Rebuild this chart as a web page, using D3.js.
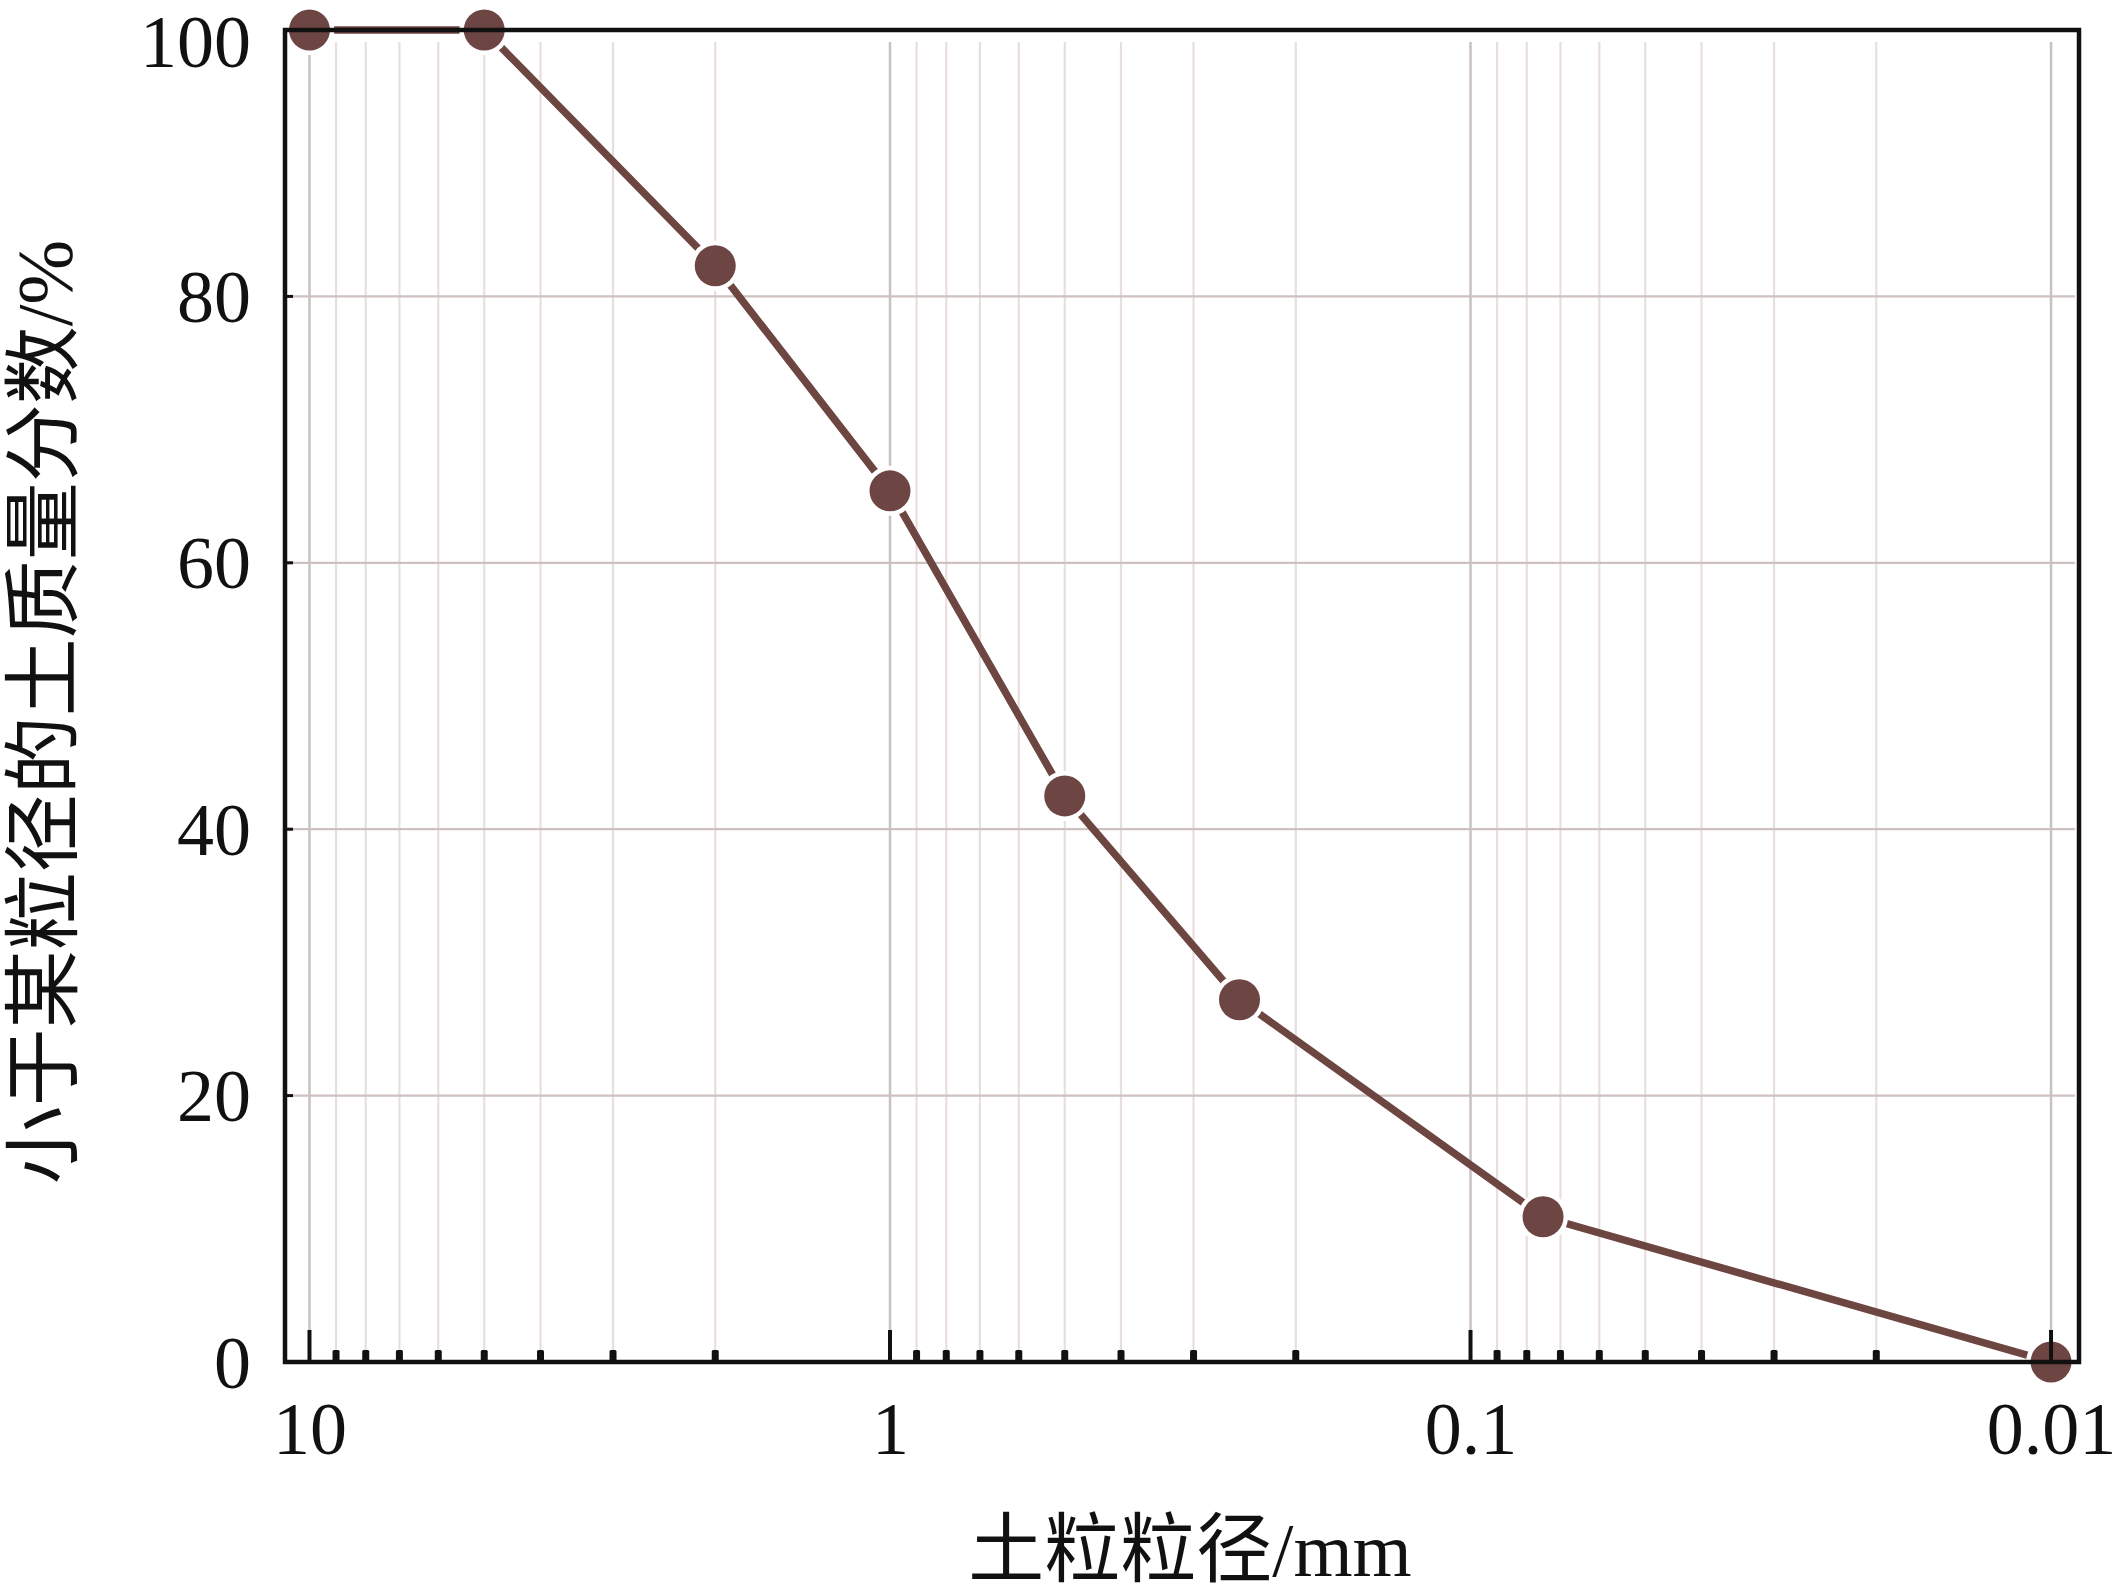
<!DOCTYPE html>
<html>
<head>
<meta charset="utf-8">
<script src="https://cdn.jsdelivr.net/npm/d3@7/dist/d3.min.js"></script>
<style>
  html, body { margin: 0; padding: 0; background: #fff; }
  svg { display: block; }
  text { font-family: "Liberation Serif", "Noto Sans CJK SC", serif; fill: #111; }
</style>
</head>
<body>
<script>
// ---- data ----
const grainSize = [10, 5, 2, 1, 0.5, 0.25, 0.075, 0.01];          // mm
const passingPct = [100, 100, 82.3, 65.4, 42.5, 27.2, 10.9, 0];   // %
const xTickValues = [10, 1, 0.1, 0.01];
const xTickLabels = ["10", "1", "0.1", "0.01"];
const yTickValues = [0, 20, 40, 60, 80, 100];
const xTitle = "土粒粒径/mm";
const yTitle = "小于某粒径的土质量分数/%";

const W = 2115, H = 1594;
const pL = 285, pR = 2079, pT = 30, pB = 1362;

const svg = d3.select("body").append("svg").attr("width", W).attr("height", H);

const x = d3.scaleLog().domain([11.02, 0.00895]).range([pL, pR]);
const y = d3.scaleLinear().domain([0, 100]).range([pB, pT]);

const minorVals = x.ticks().filter(v => v >= 0.01 && v <= 10 && !xTickValues.some(m => Math.abs(Math.log10(v) - Math.log10(m)) < 1e-6));

// minor vertical grid
svg.append("g").selectAll("line").data(minorVals).join("line")
  .attr("x1", d => x(d)).attr("x2", d => x(d))
  .attr("y1", pT + 12).attr("y2", pB - 10)
  .attr("stroke", "#e8dfdd").attr("stroke-width", 2.2);
// major vertical grid
svg.append("g").selectAll("line").data(xTickValues).join("line")
  .attr("x1", d => x(d)).attr("x2", d => x(d))
  .attr("y1", pT + 12).attr("y2", pB)
  .attr("stroke", "#c9c1c0").attr("stroke-width", 2.5);
// horizontal grid
svg.append("g").selectAll("line").data(yTickValues.filter(v => v > 0 && v < 100)).join("line")
  .attr("x1", pL).attr("x2", pR - 4)
  .attr("y1", d => y(d)).attr("y2", d => y(d))
  .attr("stroke", "#cdc2bf").attr("stroke-width", 2.2);

// data line
const pts = grainSize.map((g, i) => [g, passingPct[i]]);
svg.append("path").datum(pts)
  .attr("d", d3.line().x(d => x(d[0])).y(d => y(d[1])))
  .attr("fill", "none").attr("stroke", "#6d4541").attr("stroke-width", 7.5);
// halos
svg.append("g").selectAll("circle").data(pts).join("circle")
  .attr("cx", d => x(d[0])).attr("cy", d => y(d[1])).attr("r", 25)
  .attr("fill", "#fff");
svg.append("g").selectAll("circle").data(pts).join("circle")
  .attr("cx", d => x(d[0])).attr("cy", d => y(d[1])).attr("r", 20.5)
  .attr("fill", "#6d4643");

// frame
svg.append("rect").attr("x", pL).attr("y", pT).attr("width", pR - pL).attr("height", pB - pT)
  .attr("fill", "none").attr("stroke", "#111").attr("stroke-width", 4.5);

// x tick marks
svg.append("g").selectAll("line").data(xTickValues).join("line")
  .attr("x1", d => x(d)).attr("x2", d => x(d))
  .attr("y1", pB).attr("y2", pB - 32)
  .attr("stroke", "#111").attr("stroke-width", 4);
svg.append("g").selectAll("rect").data(minorVals).join("rect")
  .attr("x", d => x(d) - 3.5).attr("y", pB - 12).attr("width", 7).attr("height", 12)
  .attr("rx", 1.5).attr("fill", "#111");
// y tick marks (inside stubs)
svg.append("g").selectAll("line").data(yTickValues.filter(v => v > 0 && v < 100)).join("line")
  .attr("x1", pL).attr("x2", pL + 8)
  .attr("y1", d => y(d)).attr("y2", d => y(d))
  .attr("stroke", "#111").attr("stroke-width", 3);

// x axis labels
const xAxis = d3.axisBottom(x).tickValues(xTickValues).tickSize(0).tickPadding(0)
  .tickFormat((d, i) => xTickLabels[i]);
const gx = svg.append("g").attr("transform", `translate(0,${pB})`).call(xAxis);
gx.select(".domain").remove();
gx.selectAll("text").attr("y", 92).attr("dy", null)
  .style("font-size", "74px").style("font-family", "'Liberation Serif', serif").attr("fill", "#111");

// y axis labels
const yAxis = d3.axisLeft(y).tickValues(yTickValues).tickSize(0).tickPadding(34);
const gy = svg.append("g").attr("transform", `translate(${pL},0)`).call(yAxis);
gy.select(".domain").remove();
gy.selectAll("text").attr("dy", "0.34em")
  .style("font-size", "74px").style("font-family", "'Liberation Serif', serif").attr("fill", "#111");
// keep the top label fully inside the page
gy.selectAll("text").filter(d => d === 100).attr("y", 11);

// axis titles
svg.append("text").attr("x", 1190).attr("y", 1576).attr("text-anchor", "middle")
  .style("font-size", "76px").text(xTitle);
svg.append("text").attr("transform", "translate(44,712) rotate(-90)")
  .attr("text-anchor", "middle").attr("dominant-baseline", "central")
  .style("font-size", "78px").text(yTitle);
</script>
</body>
</html>
